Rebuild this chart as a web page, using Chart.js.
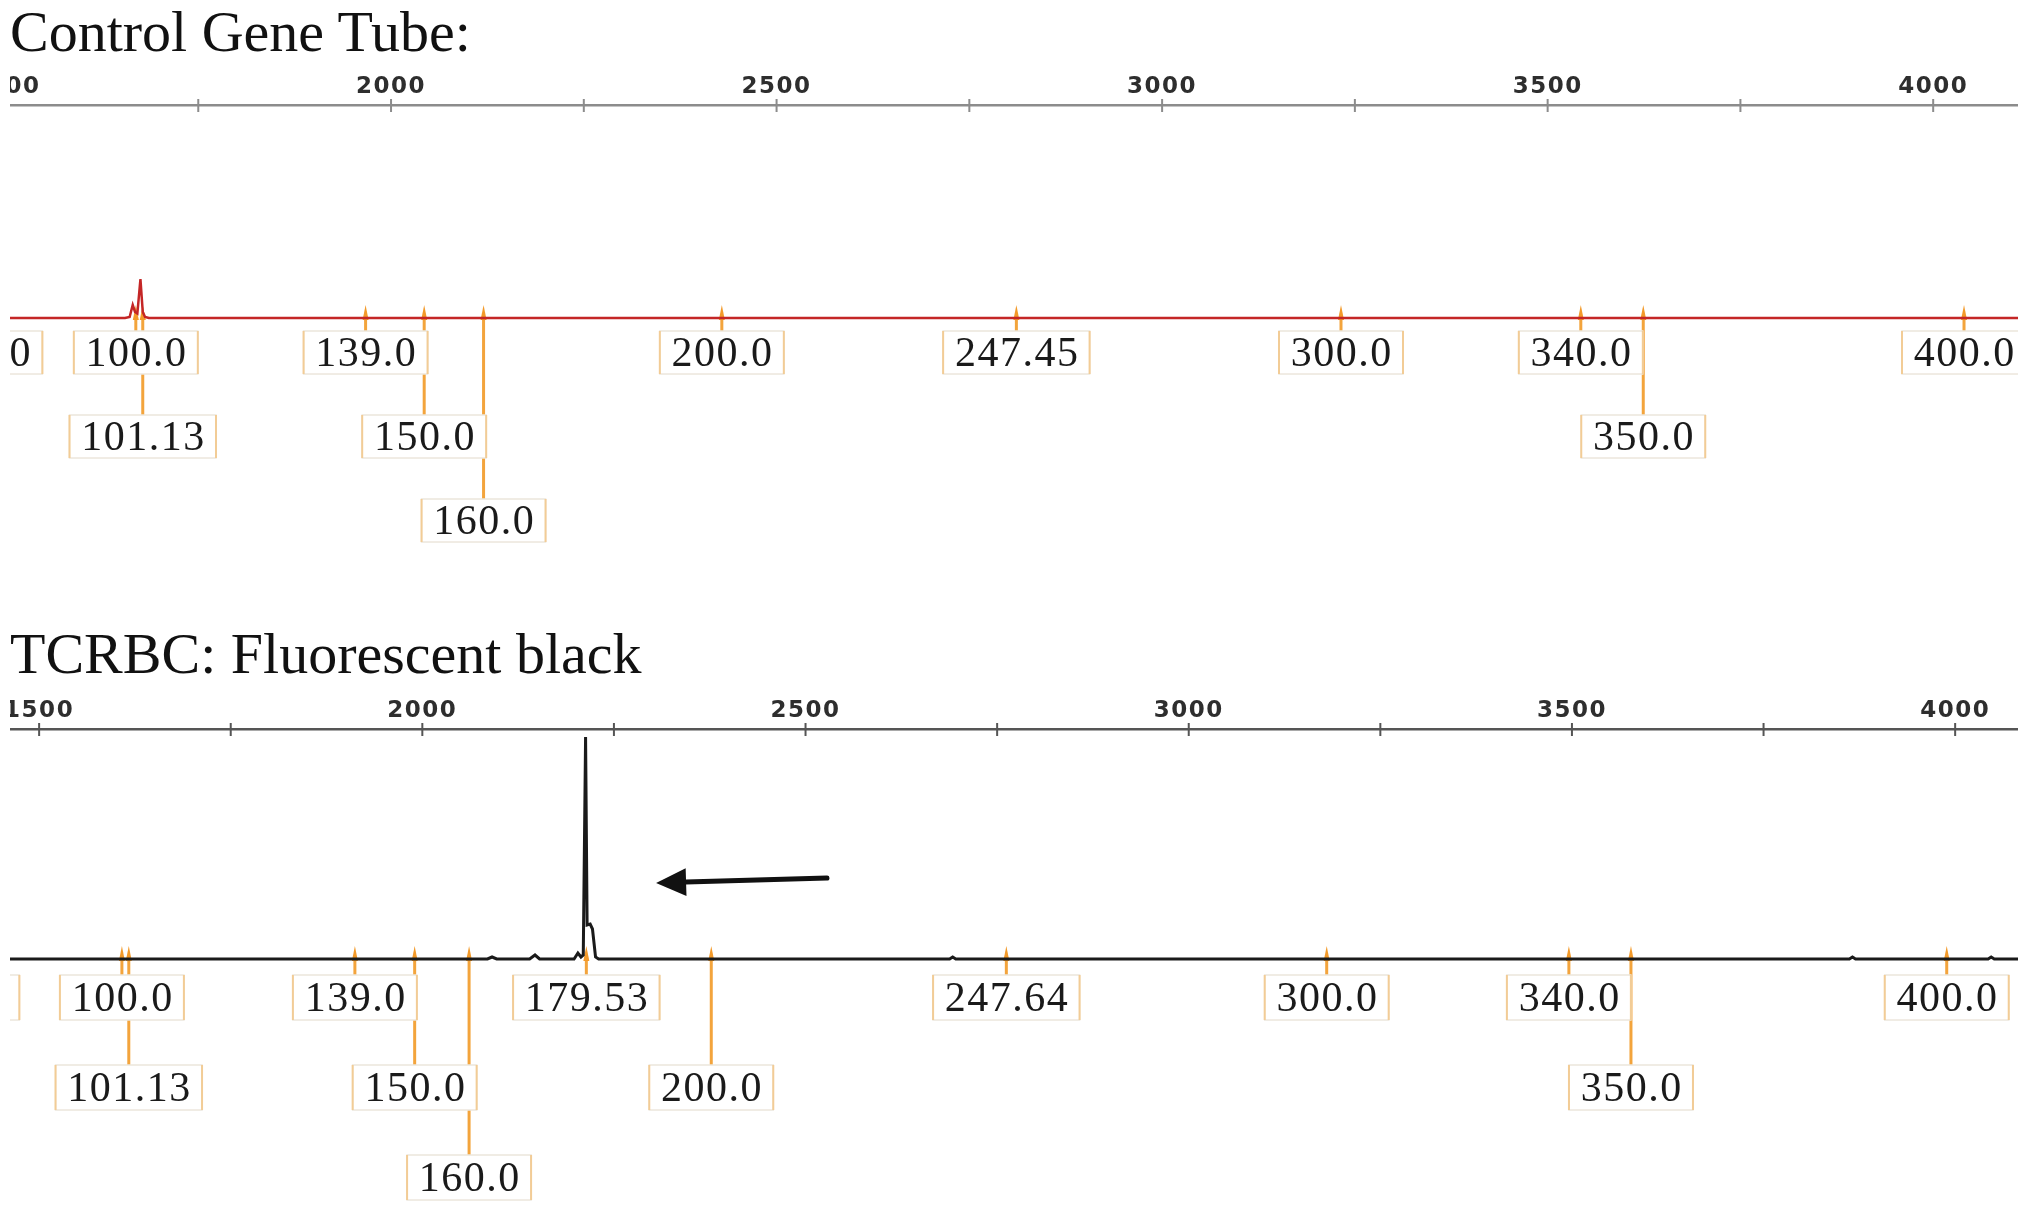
<!DOCTYPE html>
<html>
<head>
<meta charset="utf-8">
<script src="https://cdn.jsdelivr.net/npm/chart.js@4.4.0/dist/chart.umd.min.js"></script>
<style>
    html, body { margin: 0; padding: 0; background: #fff; overflow: hidden; }
    body { width: 2031px; height: 1205px; position: relative; }
    .title { position: absolute; left: 10px; font-family: "Liberation Serif", serif; font-size: 58px; line-height: 58px; color: #111; white-space: nowrap; }
    #clip { position: absolute; left: 10px; top: 0; width: 2008px; height: 1205px; overflow: hidden; }
    #clip canvas { position: absolute; left: -60px; }
</style>
</head>
<body>
<div class="title" style="top:3px">Control Gene Tube:</div>
<div class="title" style="top:625px">TCRBC: Fluorescent black</div>
<div id="clip">
    <canvas id="control" width="2080" height="545" style="top:60px"></canvas>
    <canvas id="tcrbc" width="2080" height="521" style="top:684px"></canvas>
</div>
<script>
// Scan numbers that carry a label on the top axis
const tickLabels = [1500, 2000, 2500, 3000, 3500, 4000];

// Control Gene Tube - red trace (scan number, RFU)
const controlScan = [1500, 1655, 1661, 1665, 1668, 1671, 1675, 1678, 1681, 1686, 4110];
const controlRfu = [0, 0, 10, 130, 60, 45, 390, 60, 10, 0, 0];

// Control Gene Tube - size standard peaks (bp) and their scan numbers
const controlSizes = [75.0, 100.0, 101.13, 139.0, 150.0, 160.0, 200.0, 247.45, 300.0, 340.0, 350.0, 400.0];
const controlSizeScans = [1482, 1669, 1678, 1967, 2043, 2120, 2429, 2811, 3232, 3543, 3624, 4040];

// TCRBC - black trace (scan number, RFU)
const tcrbcScan = [1462, 2085, 2091, 2097, 2140, 2147, 2153, 2198, 2203, 2207, 2210, 2213, 2215, 2219, 2222, 2226, 2230,
    2688, 2692, 2696, 3862, 3866, 3870, 4043, 4047, 4051, 4082];
const tcrbcRfu = [0, 0, 20, 0, 0, 40, 0, 0, 60, 20, 40, 2220, 340, 350, 300, 20, 0,
    0, 20, 0, 0, 20, 0, 0, 20, 0, 0];

// TCRBC - size standard peaks (bp) and their scan numbers
const tcrbcSizes = [75.0, 100.0, 101.13, 139.0, 150.0, 160.0, 179.53, 200.0, 247.64, 300.0, 340.0, 350.0, 400.0];
const tcrbcSizeScans = [1408, 1608, 1617, 1912, 1990, 2061, 2214, 2377, 2762, 3180, 3496, 3577, 3989];

// letter spacing for the axis labels
const spacing = {
    id: "spacing",
    beforeDraw(chart) {
        chart.ctx.letterSpacing = "1.5px";
    }
};

// size standard marks with their label boxes, stacked in rows when they collide
const sizeMarkers = {
    id: "sizeMarkers",
    beforeDatasetsDraw(chart, args, opts) {
        const { ctx, chartArea, scales: { x, y } } = chart;
        const base = y.getPixelForValue(0);
        ctx.save();
        ctx.beginPath();
        ctx.rect(chartArea.left, chartArea.top, chartArea.right - chartArea.left, chartArea.bottom - chartArea.top);
        ctx.clip();
        ctx.font = '42px "Liberation Serif"';
        ctx.letterSpacing = "1.5px";

        const rowEnds = [];
        const boxes = opts.sizes.map((s, i) => {
            const label = s % 1 === 0 ? s.toFixed(1) : String(s);
            const px = x.getPixelForValue(opts.scans[i]);
            const w = ctx.measureText(label).width + 22;
            let row = 0;
            while (rowEnds[row] !== undefined && rowEnds[row] + 12 > px - w / 2) row++;
            rowEnds[row] = px + w / 2;
            return { label, px, w, top: base + opts.firstGap + row * opts.rowStep };
        });

        // lines from the baseline down to each box
        ctx.strokeStyle = "#f3a43c";
        ctx.lineWidth = 3;
        boxes.forEach(b => {
            ctx.beginPath();
            ctx.moveTo(b.px, base);
            ctx.lineTo(b.px, b.top);
            ctx.stroke();
        });

        // small peaks on the baseline
        ctx.fillStyle = "#f39a2a";
        boxes.forEach(b => {
            ctx.beginPath();
            ctx.moveTo(b.px - 3, base + 2);
            ctx.lineTo(b.px, base - 13);
            ctx.lineTo(b.px + 3, base + 2);
            ctx.closePath();
            ctx.fill();
        });

        // label boxes
        const h = opts.boxH;
        boxes.forEach(b => {
            const left = b.px - b.w / 2;
            ctx.fillStyle = "#fff";
            ctx.fillRect(left, b.top, b.w, h);
            ctx.strokeStyle = "#ece6dc";
            ctx.lineWidth = 1.5;
            ctx.strokeRect(left, b.top, b.w, h);
            ctx.strokeStyle = "#f2cc96";
            ctx.lineWidth = 2;
            ctx.beginPath();
            ctx.moveTo(left, b.top);
            ctx.lineTo(left, b.top + h);
            ctx.moveTo(left + b.w, b.top);
            ctx.lineTo(left + b.w, b.top + h);
            ctx.stroke();
            ctx.fillStyle = "#1a1a1a";
            ctx.textAlign = "center";
            ctx.textBaseline = "middle";
            ctx.fillText(b.label, b.px + 0.75, b.top + h / 2 + 2);
        });
        ctx.restore();
    }
};

// tick marks crossing the axis line
const tickMarks = {
    id: "tickMarks",
    afterDraw(chart, args, opts) {
        const { ctx, chartArea, scales: { x } } = chart;
        ctx.save();
        ctx.strokeStyle = opts.color;
        ctx.lineWidth = 2;
        x.ticks.forEach(t => {
            const px = x.getPixelForValue(t.value);
            if (px < chartArea.left + 1 || px > chartArea.right - 1) return;
            ctx.beginPath();
            ctx.moveTo(px, chartArea.top - 6);
            ctx.lineTo(px, chartArea.top + 7);
            ctx.stroke();
        });
        ctx.restore();
    }
};

// arrow pointing at the clonal peak
const arrow = {
    id: "arrow",
    afterDatasetsDraw(chart, args, opts) {
        if (!opts.from) return;
        const { ctx, scales: { x, y } } = chart;
        const x1 = x.getPixelForValue(opts.from[0]), y1 = y.getPixelForValue(opts.from[1]);
        const x2 = x.getPixelForValue(opts.to[0]), y2 = y.getPixelForValue(opts.to[1]);
        const ang = Math.atan2(y2 - y1, x2 - x1);
        const hl = 30, hw = 14;
        const bx = x2 - hl * Math.cos(ang), by = y2 - hl * Math.sin(ang);
        ctx.save();
        ctx.strokeStyle = "#111";
        ctx.fillStyle = "#111";
        ctx.lineWidth = 5;
        ctx.lineCap = "round";
        ctx.beginPath();
        ctx.moveTo(x1, y1);
        ctx.lineTo(bx, by);
        ctx.stroke();
        ctx.beginPath();
        ctx.moveTo(x2, y2);
        ctx.lineTo(bx - hw * Math.sin(ang), by + hw * Math.cos(ang));
        ctx.lineTo(bx + hw * Math.sin(ang), by - hw * Math.cos(ang));
        ctx.closePath();
        ctx.fill();
        ctx.restore();
    }
};

function createChart(id, cfg) {
    const ctx = document.getElementById(id).getContext("2d");
    return new Chart(ctx, {
        type: "line",
        data: {
            datasets: [{
                data: cfg.scans.map((s, i) => ({ x: s, y: cfg.rfu[i] })),
                borderColor: cfg.color,
                borderWidth: cfg.width,
                pointRadius: 0,
                tension: 0,
                fill: false
            }]
        },
        options: {
            responsive: false,
            animation: false,
            devicePixelRatio: 1,
            events: [],
            layout: { padding: { left: cfg.padLeft, right: 12, top: 5, bottom: 0 } },
            scales: {
                x: {
                    type: "linear",
                    position: "top",
                    min: cfg.xMin,
                    max: cfg.xMax,
                    afterFit: s => { s.height = 40; },
                    grid: { display: false, drawTicks: false },
                    border: { display: true, color: cfg.axisColor, width: 2.5 },
                    ticks: {
                        stepSize: 250,
                        autoSkip: false,
                        maxRotation: 0,
                        includeBounds: false,
                        padding: 4,
                        color: "#2e2e2e",
                        font: { family: "DejaVu Sans", size: 23, weight: "bold" },
                        callback: v => tickLabels.includes(v) ? String(v) : ""
                    }
                },
                y: { display: false, min: cfg.yMin, max: cfg.yMax }
            },
            plugins: {
                legend: { display: false },
                tooltip: { enabled: false },
                sizeMarkers: { sizes: cfg.sizes, scans: cfg.sizeScans, firstGap: cfg.firstGap, rowStep: cfg.rowStep, boxH: cfg.boxH },
                tickMarks: { color: cfg.axisColor },
                arrow: cfg.arrow || {}
            }
        },
        plugins: [spacing, sizeMarkers, tickMarks, arrow]
    });
}

createChart("control", {
    scans: controlScan, rfu: controlRfu, color: "#c42626", width: 2.5,
    sizes: controlSizes, sizeScans: controlSizeScans,
    xMin: 1500, xMax: 4110, yMin: -2870, yMax: 2130, padLeft: 55.5,
    axisColor: "#8c8c8c", firstGap: 13, rowStep: 84, boxH: 43
});

createChart("tcrbc", {
    scans: tcrbcScan, rfu: tcrbcRfu, color: "#1a1a1a", width: 3,
    sizes: tcrbcSizes, sizeScans: tcrbcSizeScans,
    xMin: 1462, xMax: 4082, yMin: -2460, yMax: 2300, padLeft: 60,
    axisColor: "#555", firstGap: 16, rowStep: 90, boxH: 45,
    arrow: { from: [2528, 810], to: [2305, 760] }
});
</script>
</body>
</html>
